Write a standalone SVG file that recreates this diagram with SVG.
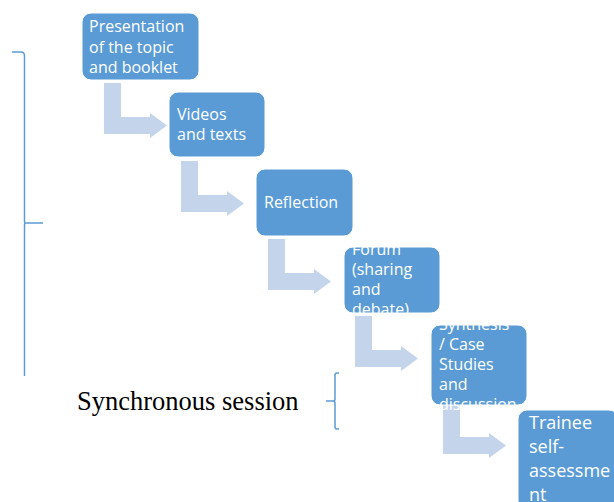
<svg xmlns="http://www.w3.org/2000/svg" width="614" height="502" viewBox="0 0 614 502">
<style>
.box{fill:#5B9BD5;stroke:#FFFFFF;stroke-width:1}
.t{font-family:"Open Sans","DejaVu Sans",sans-serif;font-size:16px;fill:#FFFFFF}
.t18{font-family:"Open Sans","DejaVu Sans",sans-serif;font-size:18px;fill:#FFFFFF}
.arr{fill:#C4D5EB}
.br{fill:none;stroke:#5B9BD5;stroke-width:1.5}
</style>
<defs>
<path id="bent" d="M0,0 h17 v34 h29 v-4 l17,12.5 l-17,12.5 v-4 h-46 z"/>
<clipPath id="c4"><rect x="344" y="247" width="96" height="67"/></clipPath>
<clipPath id="c5"><rect x="431" y="325" width="96" height="85"/></clipPath>
</defs>
<rect width="614" height="502" fill="#FFFFFF"/>
<g id="connectors">
<use href="#bent" class="arr" x="104" y="83"/>
<use href="#bent" class="arr" x="181" y="161"/>
<use href="#bent" class="arr" x="268" y="239"/>
<use href="#bent" class="arr" x="355" y="316"/>
<use href="#bent" class="arr" x="443" y="403"/>
</g>
<g id="node1">
<rect class="box" x="82" y="13" width="117" height="67" rx="9"/>
<text class="t" x="89" y="32">Presentation</text>
<text class="t" x="89" y="52.5">of the topic</text>
<text class="t" x="89" y="73">and booklet</text>
</g>
<g id="node2">
<rect class="box" x="169" y="92" width="96" height="65" rx="9"/>
<text class="t" x="177" y="120">Videos</text>
<text class="t" x="177" y="140">and texts</text>
</g>
<g id="node3">
<rect class="box" x="256" y="169" width="97" height="67" rx="9"/>
<text class="t" x="264" y="208">Reflection</text>
</g>
<g id="node4">
<rect class="box" x="344" y="247" width="96" height="66" rx="9"/>
<g clip-path="url(#c4)">
<text class="t" x="352" y="255">Forum</text>
<text class="t" x="352" y="275">(sharing</text>
<text class="t" x="352" y="295">and</text>
<text class="t" x="352" y="315">debate)</text>
</g>
</g>
<g id="node5">
<rect class="box" x="431" y="325" width="96" height="80" rx="9"/>
<g clip-path="url(#c5)">
<text class="t" x="439" y="330">Synthesis</text>
<text class="t" x="439" y="350">/ Case</text>
<text class="t" x="439" y="370">Studies</text>
<text class="t" x="439" y="390">and</text>
<text class="t" x="439" y="410">discussion</text>
</g>
</g>
<g id="node6">
<rect class="box" x="518" y="410" width="100" height="100" rx="9"/>
<text class="t18" x="529" y="429">Trainee</text>
<text class="t18" x="529" y="453">self-</text>
<text class="t18" x="529" y="477">assessme</text>
<text class="t18" x="529" y="501">nt</text>
</g>
<g id="async-brace">
<path class="br" d="M12,52 H21 Q24.5,52 24.5,56 V222 Q24.5,223 26,223 H43 M26,223 Q24.5,223 24.5,225 V376"/>
</g>
<g id="sync-brace">
<path class="br" d="M339,373 H337 Q335,373 335,375 V399 Q335,401 333,401 H326 M333,401 Q335,401 335,403 V427 Q335,429 337,429 H339"/>
<text x="77" y="410" font-family="'Liberation Serif','Times New Roman',serif" font-size="26.5" fill="#000000">Synchronous session</text>
</g>
</svg>
